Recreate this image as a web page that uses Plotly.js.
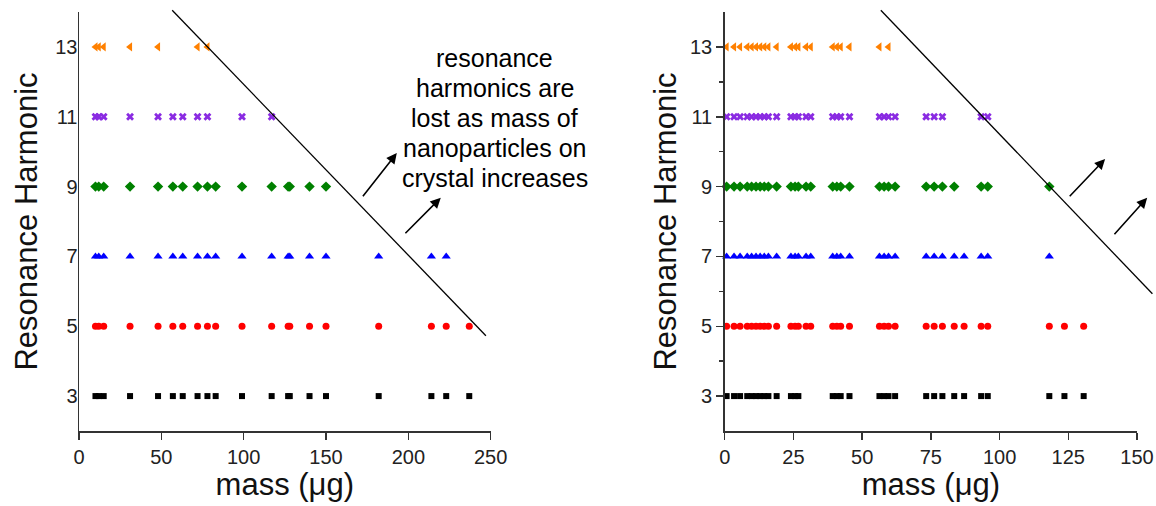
<!DOCTYPE html>
<html><head><meta charset="utf-8">
<script src="https://cdn.plot.ly/plotly-3.0.1.min.js"></script>
<style>html,body{margin:0;padding:0;background:#fff}#chart{width:1156px;height:506px}</style>
</head><body><div id="chart"></div>
<script>
// ---- data: left panel (mass in µg per resonance harmonic) ----
const harmonics = [3, 5, 7, 9, 11, 13];
const leftMass3  = [10,12,15,31,48,57,63,72,78,83,99,117,127,128,140,150,182,214,223,237];
const leftMass5  = [10,12,15,31,48,57,63,72,78,83,99,117,127,128,140,150,182,214,223,237];
const leftMass7  = [10,12,15,31,48,57,63,72,78,83,99,117,127,128,140,150,182,214,223];
const leftMass9  = [10,12,15,31,48,57,63,72,78,83,99,117,127,128,140,150];
const leftMass11 = [10,12,15,31,48,57,63,72,78,99,117];
const leftMass13 = [10,12,15,31,48,72,78];
// ---- data: right panel ----
const rightMass3  = [0.7,3.4,5.6,8.2,9.8,11.4,12.9,14.4,15.9,18.9,24.1,25.6,26.8,39.3,40.8,42.2,45.4,56.3,58.0,59.6,62.0,73.3,76.2,79.2,83.5,87.1,93.3,95.7,118.1,123.6,130.6];
const rightMass5  = [0.7,3.4,5.6,8.2,9.8,11.4,12.9,14.4,15.9,18.9,24.1,25.6,26.8,29.6,31.3,39.3,40.8,42.2,45.4,56.3,58.0,59.6,62.0,73.3,76.2,79.2,83.5,87.1,93.3,95.7,118.1,123.6,130.6];
const rightMass7  = [0.7,3.4,5.6,8.2,9.8,11.4,12.9,14.4,15.9,18.9,24.1,25.6,26.8,29.6,31.3,39.3,40.8,42.2,45.4,56.3,58.0,59.6,62.0,73.3,76.2,79.2,83.5,87.1,93.3,95.7,118.1];
const rightMass9  = [0.7,3.4,5.6,8.2,9.8,11.4,12.9,14.4,15.9,18.9,24.1,25.6,26.8,29.6,31.3,39.3,40.8,42.2,45.4,56.3,58.0,59.6,62.0,73.3,76.2,79.2,83.5,93.3,95.7,118.1];
const rightMass11 = [0.7,3.4,5.6,8.2,9.8,11.4,12.9,14.4,15.9,18.9,24.1,25.6,26.8,29.6,31.3,39.3,40.8,42.2,45.4,56.3,58.0,59.6,62.0,73.3,76.2,79.2,93.3,95.7];
const rightMass13 = [0.7,3.4,5.6,8.2,9.8,11.4,12.9,14.4,15.9,18.9,24.1,25.6,26.8,29.6,31.3,39.3,40.8,42.2,45.4,56.3,59.6];
// ---- ticks ----
const leftXTicks  = [0, 50, 100, 150, 200, 250];
const rightXTicks = [0, 25, 50, 75, 100, 125, 150];
const yTicks = [3, 5, 7, 9, 11, 13];
// ---- decorations (data units) ----
const leftBoundX  = [56.6, 247.1], leftBoundY  = [14.05, 4.73];
const rightBoundX = [56.8, 155.6], rightBoundY = [14.05, 5.93];
const leftArrows  = [{hx:193.0, hy:9.96, tx:171.7, ty:8.68}, {hx:219.7, hy:8.68, tx:197.3, ty:7.62}];
const rightArrows = [{hx:138.4, hy:9.79, tx:125.0, ty:8.68}, {hx:153.7, hy:8.68, tx:141.3, ty:7.59}];
const noteLines = ["resonance", "harmonics are", "lost as mass of", "nanoparticles on", "crystal increases"];

const colors  = ['#000000', '#ff0000', '#0000ff', '#008000', '#8a2be2', '#ff8000'];
const symbols = ['square', 'circle', 'triangle-up', 'diamond', 'x', 'triangle-left'];
const sizes   = [6, 7, 8, 8, 7, 8];

const leftSets  = [leftMass3, leftMass5, leftMass7, leftMass9, leftMass11, leftMass13];
const rightSets = [rightMass3, rightMass5, rightMass7, rightMass9, rightMass11, rightMass13];

const traces = [];
function addSets(sets, xa, ya) {
  sets.forEach((arr, i) => {
    traces.push({
      type: 'scatter', mode: 'markers', xaxis: xa, yaxis: ya,
      x: arr, y: arr.map(() => harmonics[i]),
      cliponaxis: false, showlegend: false, hoverinfo: 'skip',
      marker: {symbol: symbols[i], size: sizes[i], color: colors[i], line: {width: 0}}
    });
  });
}
addSets(leftSets, 'x', 'y');
addSets(rightSets, 'x2', 'y2');

const FONT = 'Liberation Sans, Arial, sans-serif';
const xr1 = [0, 250], xr2 = [0, 150], yr = [2, 14];
const frac = (v, r) => (v - r[0]) / (r[1] - r[0]);

const axisCommon = {
  showgrid: false, zeroline: false, showline: true, linecolor: '#333', linewidth: 1.5,
  tickfont: {family: FONT, size: 20, color: '#222'}, tickcolor: '#333', tickwidth: 1.5
};

const shapes = [
  {type: 'line', xref: 'x domain', yref: 'y domain',
   x0: frac(leftBoundX[0], xr1), x1: frac(leftBoundX[1], xr1),
   y0: frac(leftBoundY[0], yr), y1: frac(leftBoundY[1], yr), line: {color: '#000', width: 1.3}},
  {type: 'line', xref: 'x2 domain', yref: 'y2 domain',
   x0: frac(rightBoundX[0], xr2), x1: frac(rightBoundX[1], xr2),
   y0: frac(rightBoundY[0], yr), y1: frac(rightBoundY[1], yr), line: {color: '#000', width: 1.3}}
];

const annotations = [];
function addArrows(list, xa, ya) {
  list.forEach(a => annotations.push({
    xref: xa, yref: ya, axref: xa, ayref: ya, x: a.hx, y: a.hy, ax: a.tx, ay: a.ty,
    text: '', showarrow: true, arrowhead: 2, arrowsize: 1.3, arrowwidth: 1.6, arrowcolor: '#000', standoff: 0
  }));
}
addArrows(leftArrows, 'x', 'y');
addArrows(rightArrows, 'x2', 'y2');
// note text: one line per annotation, 30 px apart, centred at x ≈ 495 px
const plotH = 506 - 12 - 75;
noteLines.forEach((line, i) => annotations.push({
  xref: 'paper', yref: 'paper', x: 0.393, y: (431 - (58 + 30 * i)) / plotH,
  xanchor: 'center', yanchor: 'middle', text: line, showarrow: false,
  font: {family: FONT, size: 25, color: '#000'}
}));

const layout = {
  width: 1156, height: 506, paper_bgcolor: '#fff', plot_bgcolor: '#fff',
  margin: {l: 79, r: 19, t: 12, b: 75},
  showlegend: false,
  xaxis: Object.assign({}, axisCommon, {domain: [0, 0.3891], range: xr1, anchor: 'y',
    tickvals: leftXTicks, ticks: 'outside', ticklen: 7,
    title: {text: 'mass (μg)', font: {family: FONT, size: 31, color: '#111'}, standoff: 5}}),
  yaxis: Object.assign({}, axisCommon, {domain: [0, 1], range: yr, anchor: 'x',
    tickvals: yTicks, ticks: '', ticklabelstandoff: -4,
    title: {text: 'Resonance Harmonic', font: {family: FONT, size: 31, color: '#111'}, standoff: 8}}),
  xaxis2: Object.assign({}, axisCommon, {domain: [0.6103, 1], range: xr2, anchor: 'y2',
    tickvals: rightXTicks, ticks: 'outside', ticklen: 7,
    title: {text: 'mass (μg)', font: {family: FONT, size: 31, color: '#111'}, standoff: 5}}),
  yaxis2: Object.assign({}, axisCommon, {domain: [0, 1], range: yr, anchor: 'x2',
    tickvals: yTicks, ticks: 'outside', ticklen: 7,
    minor: {tickvals: [4, 6, 8, 10, 12], ticks: 'outside', ticklen: 4, tickcolor: '#333', tickwidth: 1.5},
    title: {text: 'Resonance Harmonic', font: {family: FONT, size: 31, color: '#111'}, standoff: 4}}),
  shapes: shapes,
  annotations: annotations
};

Plotly.newPlot('chart', traces, layout, {staticPlot: true, displayModeBar: false});
</script>
</body></html>
